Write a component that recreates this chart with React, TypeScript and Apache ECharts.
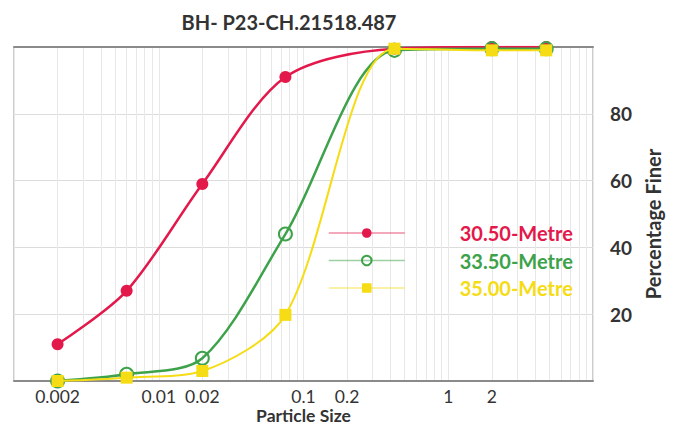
import React, { useEffect, useRef } from "react";
import * as echarts from "echarts";

const sizes = [0.002, 0.006, 0.02, 0.075, 0.425, 2, 4.75];
const s30 = [11, 27, 59, 91, 99.5, 100, 100];
const s33 = [0, 2, 6.8, 44, 99, 99.5, 99.5];
const s35 = [0, 1, 3, 19.8, 99.5, 99, 99];
const seriesNames = ["30.50-Metre", "33.50-Metre", "35.00-Metre"];
const xLabels = [0.002, 0.01, 0.02, 0.1, 0.2, 1, 2];
const gridMultipliers = [1, 2, 3, 4, 5, 6, 7, 8, 9];
const decades = [0.001, 0.01, 0.1, 1];

const RED = "#E3194B";
const GREEN = "#3DA24A";
const YELLOW = "#F5DC14";
const FONT = "Lato";

export default function App() {
  const ref = useRef<HTMLDivElement>(null);
  useEffect(() => {
    if (!ref.current) return;
    const chart = echarts.init(ref.current, undefined, { renderer: "svg" });
    const gridValues: number[] = [];
    decades.forEach((d) =>
      gridMultipliers.forEach((m) => gridValues.push(Number((d * m).toPrecision(3))))
    );
    gridValues.push(10);
    const pairs = (ys: number[]) => sizes.map((x, i) => [x, ys[i]]);
    chart.setOption({
      animation: false,
      textStyle: { fontFamily: FONT },
      title: {
        text: "BH- P23-CH.21518.487",
        left: 284,
        textAlign: "center",
        top: 7,
        textStyle: { fontFamily: FONT, fontSize: 20, fontWeight: "bold", color: "#333" },
      },
      grid: {
        left: 14,
        right: 84,
        top: 47,
        bottom: 46,
        outerBoundsMode: "none",
        containLabel: false,
        show: true,
        borderColor: "#9a9a9a",
        borderWidth: 1,
      },
      legend: {
        orient: "vertical",
        left: 323,
        top: 218,
        itemWidth: 76,
        itemHeight: 12,
        itemGap: 7.5,
        textStyle: {
          fontFamily: FONT,
          fontSize: 20,
          fontWeight: "bold",
          padding: [0, 0, 0, 50],
        },
        data: [
          { name: seriesNames[0], textStyle: { color: RED }, lineStyle: { width: 1.5, opacity: 0.5 } },
          { name: seriesNames[1], textStyle: { color: GREEN }, lineStyle: { width: 1.5, opacity: 0.5 } },
          { name: seriesNames[2], textStyle: { color: YELLOW }, lineStyle: { width: 1.5, opacity: 0.5 } },
        ],
      },
      xAxis: [
        {
          type: "log",
          logBase: 10,
          min: 0.001,
          max: 10,
          name: "Particle Size",
          nameLocation: "middle",
          nameGap: 25,
          nameMoveOverlap: false,
          nameTextStyle: {
            fontFamily: FONT,
            fontSize: 17.5,
            lineHeight: 18,
            fontWeight: "bold",
            color: "#333",
          },
          axisLine: { show: true, lineStyle: { color: "#8a8a8a", width: 2 } },
          axisTick: { show: false, customValues: gridValues },
          axisLabel: {
            customValues: xLabels,
            margin: 6,
            fontFamily: FONT,
            fontSize: 17.5,
            color: "#333",
            formatter: (v: number) => String(v),
          },
          splitLine: { show: true, lineStyle: { color: "#e8e8e8", width: 1 } },
        },
        {
          type: "log",
          logBase: 10,
          min: 0.001,
          max: 10,
          position: "top",
          axisLine: { show: true, lineStyle: { color: "#8a8a8a", width: 2 } },
          axisTick: { show: false },
          axisLabel: { show: false },
          splitLine: { show: false },
        },
      ],
      yAxis: {
        type: "value",
        position: "right",
        min: 0,
        max: 100,
        interval: 20,
        name: "Percentage Finer",
        nameLocation: "middle",
        nameRotate: 90,
        nameGap: 50,
        nameTextStyle: {
          fontFamily: FONT,
          fontSize: 20,
          fontWeight: "bold",
          color: "#333",
          padding: [0, 20, 0, 0],
        },
        axisLine: { show: false },
        axisTick: { show: false },
        axisLabel: {
          margin: 17,
          fontFamily: FONT,
          fontSize: 19,
          fontWeight: "bold",
          color: "#333",
          formatter: (v: number) => (v === 0 || v === 100 ? "" : String(v)),
        },
        splitLine: { show: true, lineStyle: { color: "#dcdcdc", width: 1 } },
      },
      series: [
        {
          name: seriesNames[0],
          type: "line",
          data: pairs(s30),
          smooth: 0.3,
          symbol: "circle",
          symbolSize: 12,
          lineStyle: { color: RED, width: 2.5 },
          itemStyle: { color: RED },
          z: 2,
        },
        {
          name: seriesNames[1],
          type: "line",
          data: pairs(s33),
          smooth: 0.3,
          symbol: "circle",
          symbolSize: 13,
          lineStyle: { color: GREEN, width: 2.5 },
          itemStyle: { color: "rgba(255,255,255,0)", borderColor: GREEN, borderWidth: 2 },
          z: 3,
        },
        {
          name: seriesNames[2],
          type: "line",
          data: pairs(s35),
          smooth: 0.3,
          symbol: "rect",
          symbolSize: 12,
          lineStyle: { color: YELLOW, width: 2 },
          itemStyle: { color: YELLOW },
          z: 4,
        },
      ],
    });
    return () => chart.dispose();
  }, []);
  return <div ref={ref} style={{ width: 677, height: 427, position: "absolute", left: 0, top: 0 }} />;
}
